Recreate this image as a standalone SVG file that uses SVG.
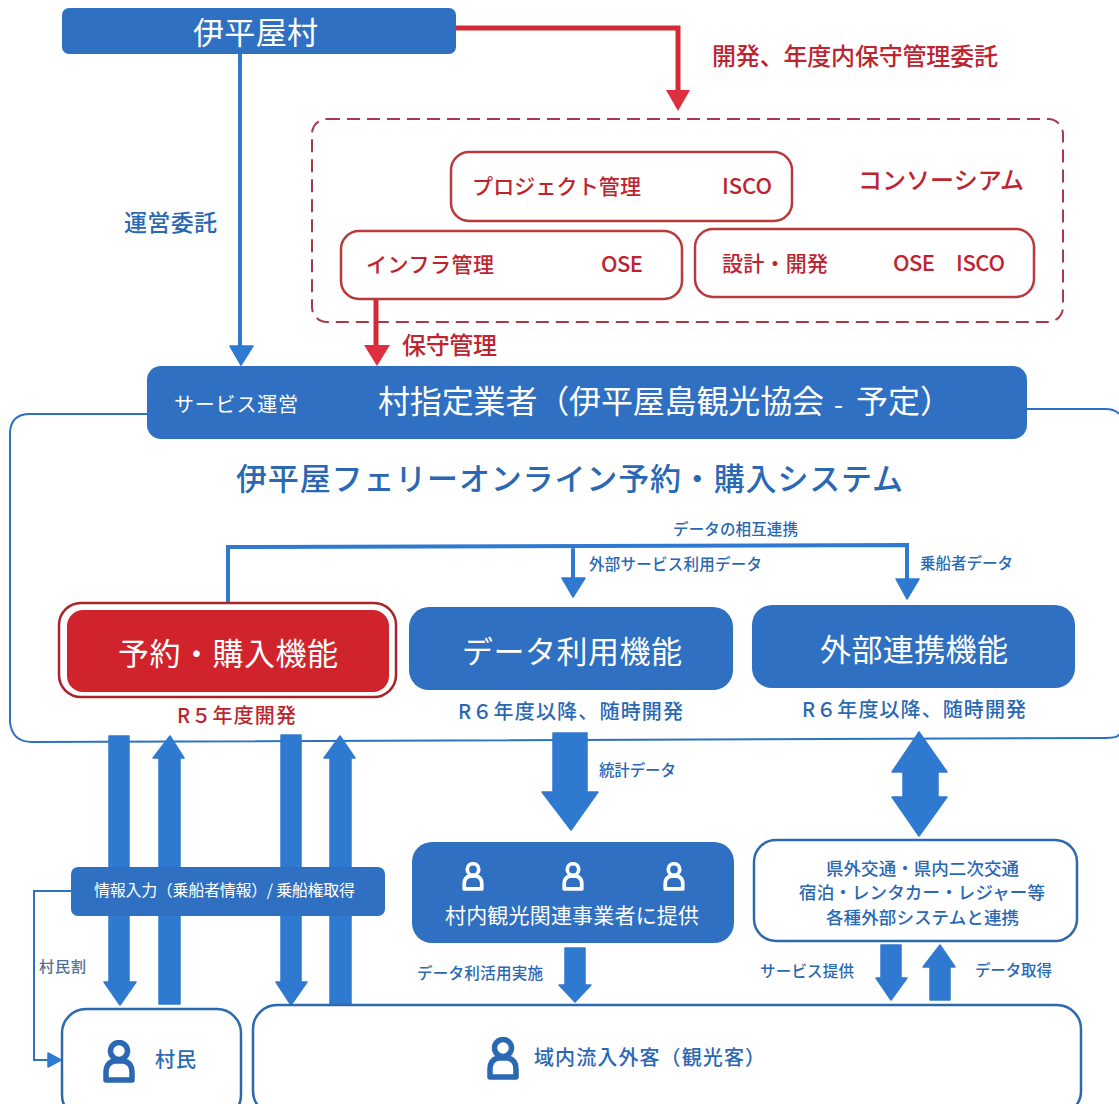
<svg xmlns="http://www.w3.org/2000/svg" width="1119" height="1104" viewBox="0 0 1119 1104">
<style>
text{font-family:"Noto Sans CJK JP","Noto Sans",sans-serif;dominant-baseline:central;font-weight:500}
.w{fill:#fff;font-weight:400}
.b{fill:#2a68b4}
.r{fill:#bd2430}
.box{fill:#2f70c2}
.out{fill:#fff;stroke:#2c69ad;stroke-width:2.5}
.rbox{fill:#fff;stroke:#b93a3c;stroke-width:2.5}
.ln{fill:none;stroke:#2f7ad0;stroke-width:4}
.rl{fill:none;stroke:#d12a35;stroke-width:5}
.af{fill:#2f7ad0;stroke:#2f7ad0;stroke-width:1.5;stroke-linejoin:round}
.rf{fill:#de2f3f}
.thin{fill:none;stroke:#2c72c4;stroke-width:2}
.dash{fill:#fff;stroke:#a93a48;stroke-width:2;stroke-dasharray:13 7}
</style>
<defs>
<symbol id="person" viewBox="0 0 32 43">
<circle cx="16" cy="11" r="8.5" fill="none" stroke="currentColor" stroke-width="5.5"/>
<path d="M3 40V32Q3 23 11 21H21Q29 23 29 32V40Z" fill="none" stroke="currentColor" stroke-width="5.5" stroke-linejoin="round"/>
</symbol>
</defs>
<rect width="1119" height="1104" fill="#fff"/>
<path id="system-frame" d="M147 414H30Q10 414 10 434V722Q12 742 32 742L1105 738Q1119 738 1119 734M1027 409H1105Q1115 409 1119 414" fill="none" stroke="#2c72c4" stroke-width="2"/>
<g id="consortium"><rect class="dash" x="312" y="119" width="751" height="203" rx="15"/><text class="r" x="858" y="178" font-size="24" textLength="166">コンソーシアム</text></g>
<g id="connectors">
<path class="rl" d="M456 28H678V92"/>
<path class="rf" d="M666 90H690L678 111Z"/>
<path class="ln" d="M240 54V347" stroke-width="5"/>
<path class="af" d="M230 346H253L241 365Z"/>
<path class="rl" d="M376 298V347"/>
<path class="rf" d="M364 345H390L377 366Z"/>
<path class="ln" d="M228 604V547L907 545V580M573 546V580"/>
<path class="af" d="M562 578H585L573 597Z"/>
<path class="af" d="M896 579H919L907 599Z"/>
<path class="af" d="M109 736H129V982H136L120 1005L104 982H109Z"/>
<path class="af" d="M170 736L184 758H180V1004H159V758H153Z"/>
<path class="af" d="M281 735H301V982H307L291 1005L276 982H281Z"/>
<path class="af" d="M340 736L355 758H351V1004H330V758H324Z"/>
<path class="af" d="M553 733H587V792H598L571 830L542 792H553Z"/>
<path class="af" d="M919 732L947 772H938V797H947L919 836L892 797H903V772H892Z"/>
<path class="af" d="M565 948H585V985H591L575 1002L559 985H565Z"/>
<path class="af" d="M881 945H901V978H907L891 1000L876 978H881Z"/>
<path class="af" d="M940 945L955 967H950V1000H930V967H923Z"/>
<path class="thin" d="M71 891H34V1060H50"/>
<path class="af" d="M48 1053L61 1060L48 1067Z"/>
</g>
<g id="label-dev"><text class="r" x="712" y="54" font-size="24" textLength="286">開発、年度内保守管理委託</text></g>
<g id="label-ops"><text class="b" x="124" y="221" font-size="23" textLength="93">運営委託</text></g>
<g id="label-maint"><text class="r" x="402" y="343" font-size="24" textLength="95">保守管理</text></g>
<g id="node-village"><rect class="box" x="62" y="8" width="394" height="46" rx="7"/><text class="w" x="193" y="30" font-size="31" textLength="125">伊平屋村</text></g>
<g id="node-project"><rect class="rbox" x="451" y="152" width="341" height="69" rx="18"/><text class="r" x="472" y="185" font-size="21" textLength="169">プロジェクト管理</text><text class="r" x="722" y="184" font-size="22" textLength="50">ISCO</text></g>
<g id="node-infra"><rect class="rbox" x="341" y="231" width="341" height="68" rx="18"/><text class="r" x="366" y="263" font-size="21" textLength="128">インフラ管理</text><text class="r" x="601" y="262" font-size="22" textLength="42">OSE</text></g>
<g id="node-design"><rect class="rbox" x="695" y="229" width="339" height="68" rx="18"/><text class="r" x="722" y="262" font-size="21" textLength="106">設計・開発</text><text class="r" x="893" y="261" font-size="22" textLength="42">OSE</text><text class="r" x="956" y="261" font-size="22" textLength="49">ISCO</text></g>
<g id="node-operator"><rect class="box" x="147" y="366" width="880" height="73" rx="14"/><text class="w" x="174" y="403" font-size="20" textLength="124">サービス運営</text><text class="w" x="378" y="399" font-size="32" textLength="446">村指定業者（伊平屋島観光協会</text><text class="w" x="834" y="402" font-size="26">-</text><text class="w" x="856" y="399" font-size="32">予定）</text></g>
<g id="label-system"><text class="b" x="236" y="476" font-size="31" textLength="667">伊平屋フェリーオンライン予約・購入システム</text></g>
<g id="labels-link"><text class="b" x="673" y="528" font-size="15.5" textLength="125">データの相互連携</text><text class="b" x="589" y="563" font-size="15.5" textLength="173">外部サービス利用データ</text><text class="b" x="920" y="562" font-size="15.5" textLength="93">乗船者データ</text></g>
<g id="node-booking"><rect x="59" y="603" width="337" height="94" rx="22" fill="#fff" stroke="#a8242a" stroke-width="2.5"/><rect x="67" y="610" width="322" height="82" rx="16" fill="#d1232b"/><text class="w" x="118" y="651" font-size="31" textLength="220">予約・購入機能</text><text class="r" x="177" y="714" font-size="20" textLength="119">R５年度開発</text></g>
<g id="node-data"><rect class="box" x="409" y="607" width="324" height="83" rx="20"/><text class="w" x="462" y="649" font-size="31" textLength="220">データ利用機能</text><text class="b" x="458" y="710" font-size="20" textLength="225">R６年度以降、随時開発</text></g>
<g id="node-external"><rect class="box" x="752" y="605" width="323" height="83" rx="20"/><text class="w" x="820" y="647" font-size="31" textLength="188">外部連携機能</text><text class="b" x="802" y="708" font-size="20" textLength="224">R６年度以降、随時開発</text></g>
<g id="label-stats"><text class="b" x="599" y="769" font-size="15.5" textLength="77">統計データ</text></g>
<g id="node-input"><rect class="box" x="71" y="867" width="314" height="49" rx="7"/><text class="w" x="94" y="889" font-size="16" textLength="261">情報入力（乗船者情報）/ 乗船権取得</text></g>
<g id="node-provide"><rect class="box" x="412" y="842" width="322" height="101" rx="20"/><use href="#person" x="462" y="862" width="22" height="29" color="#fff"/><use href="#person" x="562" y="862" width="22" height="29" color="#fff"/><use href="#person" x="663" y="862" width="22" height="29" color="#fff"/><text class="w" x="445" y="914" font-size="21" textLength="254">村内観光関連事業者に提供</text></g>
<g id="node-systems"><rect class="out" x="754" y="840" width="323" height="101" rx="22"/><text class="b" x="826" y="867" font-size="17.5" textLength="193">県外交通・県内二次交通</text><text class="b" x="799" y="891" font-size="17.5" textLength="246">宿泊・レンタカー・レジャー等</text><text class="b" x="826" y="916" font-size="17.5" textLength="193">各種外部システムと連携</text></g>
<g id="labels-lower"><text class="b" x="417" y="972" font-size="15.5" textLength="126">データ利活用実施</text><text class="b" x="760" y="970" font-size="15.5" textLength="94">サービス提供</text><text class="b" x="975" y="969" font-size="15.5" textLength="77">データ取得</text><text x="39" y="965" font-size="15" textLength="47" fill="#4f6f96">村民割</text></g>
<g id="node-villagers"><rect class="out" x="62" y="1009" width="179" height="110" rx="24"/><use href="#person" x="103" y="1040" width="32" height="43" color="#2a68b4"/><text class="b" x="155" y="1058" font-size="20" textLength="41">村民</text></g>
<g id="node-tourists"><rect class="out" x="253" y="1005" width="828" height="110" rx="24"/><use href="#person" x="487" y="1037" width="32" height="43" color="#2a68b4"/><text class="b" x="534" y="1056" font-size="20" textLength="231">域内流入外客（観光客）</text></g>
</svg>
